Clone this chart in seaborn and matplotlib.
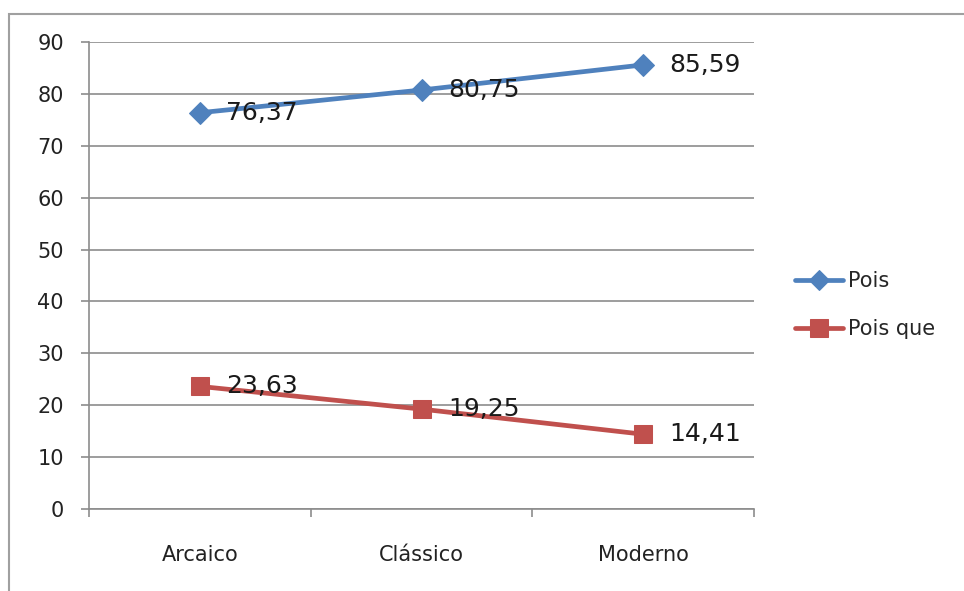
import matplotlib
matplotlib.use("Agg")
import matplotlib.pyplot as plt
import seaborn as sns
import pandas as pd
from matplotlib.patches import Rectangle

categories = ["Arcaico", "Clássico", "Moderno"]
pois = [76.37, 80.75, 85.59]
pois_que = [23.63, 19.25, 14.41]
series_names = ["Pois", "Pois que"]
y_ticks = [0, 10, 20, 30, 40, 50, 60, 70, 80, 90]

sns.set_theme(style="white")
plt.rcParams["font.family"] = ["DejaVu Sans"]

df = pd.DataFrame({
    "periodo": categories * 2,
    "pos": list(range(len(categories))) * 2,
    "valor": pois + pois_que,
    "serie": [series_names[0]] * 3 + [series_names[1]] * 3,
})

colors = {"Pois": "#4F81BD", "Pois que": "#C0504D"}
markers = {"Pois": "D", "Pois que": "s"}
msizes = {"Pois": 11, "Pois que": 13}

fig = plt.figure(figsize=(9.64, 5.91), dpi=100)
fig.patch.set_facecolor("white")

# outer chart frame
fig.add_artist(Rectangle((9 / 964, -0.05), 1.0, 1 - 14 / 591 + 0.05,
                         transform=fig.transFigure, fill=False,
                         edgecolor="#a0a0a0", linewidth=1.5))

ax = fig.add_axes([89 / 964, 1 - 509 / 591, (754 - 89) / 964, (509 - 42) / 591])

for name in series_names:
    sub = df[df["serie"] == name]
    sns.lineplot(data=sub, x="pos", y="valor", ax=ax, color=colors[name],
                 linewidth=3.4, marker=markers[name], markersize=msizes[name],
                 markeredgecolor=colors[name], label=name, zorder=3)
    for x, v in zip(sub["pos"], sub["valor"]):
        ax.annotate(f"{v:.2f}".replace(".", ","), (x, v), xytext=(19, 0),
                    textcoords="offset points", ha="left", va="center",
                    fontsize=18, color="#1a1a1a", zorder=4)

ax.set_xlim(-0.5, 2.5)
ax.set_ylim(0, 90)
ax.set_yticks(y_ticks)
ax.set_yticklabels([str(t) for t in y_ticks], fontsize=15, color="#222222")
ax.set_xticks(range(len(categories)))
ax.set_xticklabels(categories, fontsize=15, color="#222222")
ax.set_xlabel("")
ax.set_ylabel("")

ax.grid(axis="y", color="#8c8c8c", linewidth=1.2)
ax.set_axisbelow(True)
for side in ["top", "right"]:
    ax.spines[side].set_visible(False)
for side in ["left", "bottom"]:
    ax.spines[side].set_color("#8c8c8c")
    ax.spines[side].set_linewidth(1.2)

# y tick marks outward; x tick marks at category boundaries
ax.tick_params(axis="y", which="major", left=True, length=6, width=1.2,
               color="#8c8c8c", pad=12)
ax.tick_params(axis="x", which="major", bottom=False, pad=20)
ax.set_xticks([-0.5, 0.5, 1.5, 2.5], minor=True)
ax.tick_params(axis="x", which="minor", bottom=True, length=6, width=1.2,
               color="#8c8c8c")

leg = ax.legend(loc="center left", bbox_to_anchor=(1.062, 0.437), frameon=False,
                fontsize=15, handlelength=2.3, handletextpad=0.25,
                labelspacing=1.35, borderpad=0, borderaxespad=0,
                markerscale=0.95)

fig.savefig("out.png", dpi=100, facecolor="white")
